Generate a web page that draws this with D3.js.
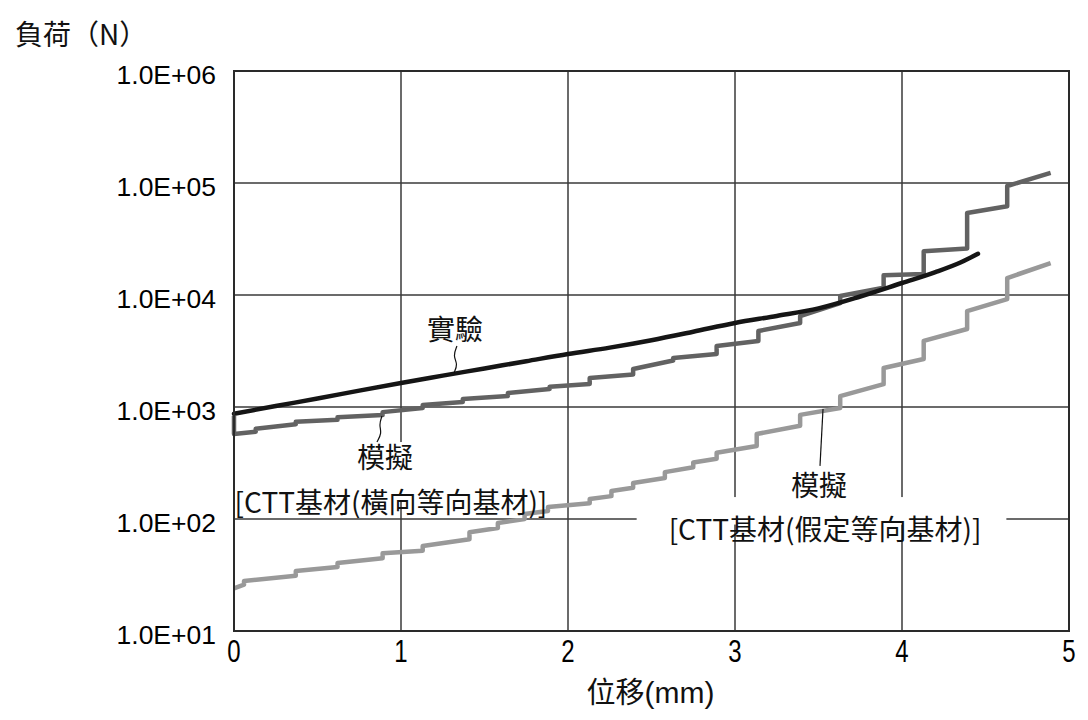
<!DOCTYPE html>
<html>
<head>
<meta charset="utf-8">
<script src="https://cdn.jsdelivr.net/npm/d3@7/dist/d3.min.js"></script>
<style>
  html, body { margin: 0; padding: 0; background: #fff; }
  svg { display: block; }
</style>
</head>
<body>
<svg id="chart" width="1088" height="720"></svg>
<script>
// ---------------- data ----------------
const X_TICKS = [0, 1, 2, 3, 4, 5];
const X_TICK_LABELS = ["0", "1", "2", "3", "4", "5"];
const Y_TICKS = [1e1, 1e2, 1e3, 1e4, 1e5, 1e6];
const Y_TICK_LABELS = ["1.0E+01", "1.0E+02", "1.0E+03", "1.0E+04", "1.0E+05", "1.0E+06"];
const X_TITLE = "位移(mm)";
const Y_TITLE = "負荷（N）";

// 實驗 (experiment) : [displacement mm, load N]
const EXPERIMENT = [
  [0.00, 870], [0.25, 1020], [0.50, 1190], [0.75, 1400], [1.00, 1640],
  [1.25, 1905], [1.50, 2210], [1.75, 2565], [2.00, 2975], [2.25, 3390],
  [2.50, 3950], [2.75, 4700], [3.00, 5630], [3.25, 6500], [3.50, 7600],
  [3.75, 9700], [4.00, 12800], [4.20, 16000], [4.35, 19500], [4.455, 23300]
];

// 模擬 [CTT基材(橫向等向基材)]
const SIM_TRANSVERSE = [
  [0.00, 830], [0.00, 574], [0.13, 600], [0.13, 640], [0.37, 700], [0.37, 740],
  [0.62, 770], [0.62, 810], [0.89, 850], [0.89, 900], [1.13, 980], [1.13, 1040],
  [1.37, 1110], [1.37, 1180], [1.64, 1254], [1.64, 1333], [1.89, 1448], [1.89, 1520],
  [2.13, 1605], [2.13, 1815], [2.39, 1950], [2.39, 2184], [2.63, 2600], [2.63, 2740],
  [2.89, 2970], [2.89, 3500], [3.14, 3880], [3.14, 4770], [3.39, 5630], [3.39, 6490],
  [3.63, 8450], [3.63, 9780], [3.89, 11600], [3.89, 15000], [4.13, 15400], [4.13, 24600],
  [4.39, 26000], [4.39, 54000], [4.63, 62000], [4.63, 94000], [4.89, 123000]
];

// 模擬 [CTT基材(假定等向基材)]
const SIM_ISOTROPIC = [
  [0.00, 24], [0.06, 25.9], [0.06, 28.0], [0.37, 31.2], [0.37, 34.3],
  [0.62, 37.3], [0.62, 40.5], [0.89, 44.7], [0.89, 49.5], [1.13, 52], [1.13, 57.5],
  [1.41, 66], [1.41, 76], [1.58, 83], [1.58, 92], [1.74, 100], [1.74, 111],
  [1.88, 118], [1.88, 128], [2.13, 138], [2.13, 151], [2.26, 160], [2.26, 178],
  [2.39, 190], [2.39, 210], [2.58, 232], [2.58, 262], [2.75, 290], [2.75, 320],
  [2.89, 345], [2.89, 390], [3.13, 448], [3.13, 574], [3.39, 680], [3.39, 850],
  [3.63, 980], [3.63, 1250], [3.89, 1600], [3.89, 2230], [4.13, 2680], [4.13, 3890],
  [4.39, 4970], [4.39, 7190], [4.63, 9190], [4.63, 14170], [4.89, 19300]
];

// annotation texts, anchored in data coordinates
const ANNOTATION_TEXTS = [
  { text: "實驗", at: [1.323, 5070], bg: null },
  { text: "模擬", at: [0.904, 365], bg: [2, 2, 14, 13] },
  { text: "[CTT基材(橫向等向基材)]", at: [0.940, 145], bg: [3, 3, 23, -13] },
  { text: "模擬", at: [3.503, 205], bg: null },
  { text: "[CTT基材(假定等向基材)]", at: [3.539, 83], bg: [32, 25, 31, -17] }
];
const LEADERS = [
  [[1.335, 3500], [1.311, 2850], [1.341, 2420], [1.317, 2010]],
  [[0.886, 830], [0.868, 690], [0.886, 586], [0.856, 487]],
  [[3.527, 960], [3.509, 298]]
];

// ---------------- drawing ----------------
const svg = d3.select("#chart");
const M = { left: 234, right: 1069, top: 71, bottom: 631 };
const x = d3.scaleLinear().domain([0, 5]).range([M.left, M.right]);
const y = d3.scaleLog().domain([1e1, 1e6]).range([M.bottom, M.top]);

const CJK = "'Noto Sans CJK TC', 'Noto Sans CJK JP', sans-serif";
const LATIN = "'Liberation Sans', Arial, sans-serif";
const gridColor = "#3a3a3a";

// grid
const grid = svg.append("g");
grid.selectAll("line.v").data(X_TICKS.slice(1, -1)).join("line")
  .attr("x1", d => x(d)).attr("x2", d => x(d))
  .attr("y1", M.top).attr("y2", M.bottom)
  .attr("stroke", gridColor).attr("stroke-width", 1.5);
grid.selectAll("line.h").data(Y_TICKS.slice(1, -1)).join("line")
  .attr("x1", M.left).attr("x2", M.right)
  .attr("y1", d => y(d)).attr("y2", d => y(d))
  .attr("stroke", gridColor).attr("stroke-width", 1.5);

// annotation backgrounds and texts
const bgLayer = svg.append("g");
const seriesLayer = svg.append("g");
const textLayer = svg.append("g");

const FS = 28;
ANNOTATION_TEXTS.forEach(a => {
  const t = textLayer.append("text")
    .attr("x", x(a.at[0])).attr("y", y(a.at[1]))
    .attr("text-anchor", "middle").attr("dominant-baseline", "central")
    .attr("font-family", CJK).attr("font-size", FS).attr("fill", "#111")
    .text(a.text);
  if (a.bg) {
    const bb = t.node().getBBox();
    const cy = y(a.at[1]);
    bgLayer.append("rect")
      .attr("x", bb.x - a.bg[0]).attr("width", bb.width + a.bg[0] + a.bg[1])
      .attr("y", cy - a.bg[2]).attr("height", a.bg[2] + a.bg[3] + 13.5)
      .attr("fill", "#fff");
  }
});

// series
const line = d3.line().x(d => x(d[0])).y(d => y(d[1]));
seriesLayer.append("path").datum(SIM_ISOTROPIC).attr("d", line)
  .attr("fill", "none").attr("stroke", "#999").attr("stroke-width", 4.5)
  .attr("stroke-linejoin", "round");
seriesLayer.append("path").datum(SIM_TRANSVERSE).attr("d", line)
  .attr("fill", "none").attr("stroke", "#626262").attr("stroke-width", 4.5)
  .attr("stroke-linejoin", "round");
seriesLayer.append("path").datum(EXPERIMENT).attr("d", line.curve(d3.curveMonotoneX))
  .attr("fill", "none").attr("stroke", "#151515").attr("stroke-width", 4.5)
  .attr("stroke-linecap", "round");

// leaders
const leader = d3.line().x(d => x(d[0])).y(d => y(d[1])).curve(d3.curveBasis);
LEADERS.forEach(p => {
  textLayer.append("path").attr("d", leader(p))
    .attr("fill", "none").attr("stroke", "#111").attr("stroke-width", 1.2);
});

// border
svg.append("rect")
  .attr("x", M.left).attr("y", M.top)
  .attr("width", M.right - M.left).attr("height", M.bottom - M.top)
  .attr("fill", "none").attr("stroke", "#2a2a2a").attr("stroke-width", 2);

// y tick labels
svg.append("g").selectAll("text").data(Y_TICKS).join("text")
  .attr("x", M.left - 18).attr("y", d => y(d) + 13)
  .attr("text-anchor", "end")
  .attr("font-family", LATIN).attr("font-size", 26.5).attr("fill", "#000")
  .text((d, i) => Y_TICK_LABELS[i]);

// x tick labels (condensed)
svg.append("g").selectAll("text").data(X_TICKS).join("text")
  .attr("transform", d => `translate(${x(d)},${M.bottom + 31}) scale(0.75,1)`)
  .attr("text-anchor", "middle")
  .attr("font-family", LATIN).attr("font-size", 32).attr("fill", "#000")
  .text((d, i) => X_TICK_LABELS[i]);

// axis titles
const xt = svg.append("text")
  .attr("x", (M.left + M.right) / 2 - 1).attr("y", 703)
  .attr("text-anchor", "middle")
  .attr("font-family", CJK).attr("font-size", 29).attr("fill", "#111");
xt.append("tspan").text(X_TITLE.slice(0, 2));
xt.append("tspan").attr("font-family", LATIN).attr("font-size", 30).text(X_TITLE.slice(2));

svg.append("text")
  .attr("x", 15).attr("y", 45)
  .attr("font-family", CJK).attr("font-size", 28).attr("fill", "#111")
  .text(Y_TITLE);
</script>
</body>
</html>
